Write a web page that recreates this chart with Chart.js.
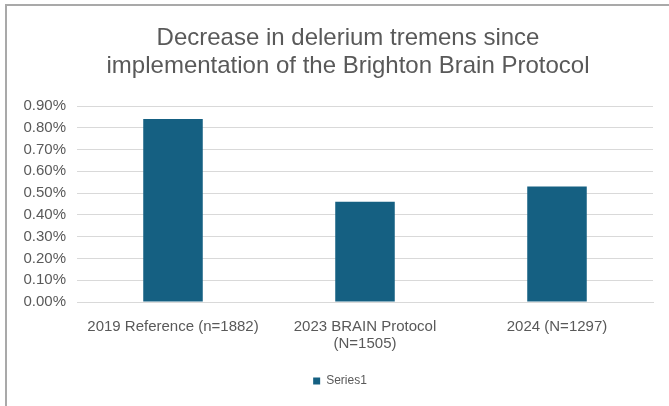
<!DOCTYPE html>
<html>
<head>
<meta charset="utf-8">
<script src="https://cdn.jsdelivr.net/npm/chart.js@4"></script>
<style>
  html, body { margin: 0; padding: 0; background: #fff; width: 669px; height: 406px; overflow: hidden; }
  #frame { position: absolute; left: 5px; top: 4px; width: 700px; height: 440px;
           border-top: 2px solid #a9a9a9; border-left: 2px solid #a9a9a9; }
  #wrap { position: absolute; left: 7px; top: 6px; width: 662px; height: 400px; }
</style>
</head>
<body>
<div id="frame"></div>
<div id="wrap"><canvas id="c"></canvas></div>
<script>
const categories = [
  "2019 Reference (n=1882)",
  ["2023 BRAIN Protocol", "(N=1505)"],
  "2024 (N=1297)"
];
const series1 = [0.84, 0.46, 0.53];
const titleLines = [
  "Decrease in delerium tremens since",
  "implementation of the Brighton Brain Protocol"
];
const seriesName = "Series1";

const textColor = "#595959";
const gridColor = "#d9d9d9";
const barColor = "#156082";
const fontFamily = "Liberation Sans, Arial, sans-serif";

// nudges the title and legend blocks horizontally (reference centres them slightly right)
const nudgeBlocks = {
  id: "nudgeBlocks",
  afterLayout(chart) {
    if (chart.titleBlock) { chart.titleBlock.left += 18; chart.titleBlock.right += 18; }
    if (chart.legend) { chart.legend.left += 10; chart.legend.right += 10; }
  }
};

new Chart(document.getElementById("c"), {
  type: "bar",
  data: {
    labels: categories,
    datasets: [{
      label: seriesName,
      data: series1,
      backgroundColor: barColor,
      borderWidth: 0,
      categoryPercentage: 1.0,
      barPercentage: 0.31
    }]
  },
  plugins: [nudgeBlocks],
  options: {
    responsive: true,
    maintainAspectRatio: false,
    animation: false,
    devicePixelRatio: 1,
    layout: { padding: { left: 0, right: 16, top: 18, bottom: 9 } },
    plugins: {
      title: {
        display: true,
        text: titleLines,
        color: textColor,
        font: { family: fontFamily, size: 24, weight: "normal", lineHeight: 28 / 24 },
        padding: { top: 0, bottom: 26 }
      },
      legend: {
        display: true,
        position: "bottom",
        labels: {
          color: textColor,
          font: { family: fontFamily, size: 12 },
          boxWidth: 7,
          boxHeight: 7,
          padding: 10
        }
      },
      tooltip: { enabled: false }
    },
    scales: {
      x: {
        grid: { display: false, drawTicks: false },
        border: { display: true, color: gridColor, width: 1 },
        afterFit: (scale) => { scale.height = 63; },
        ticks: {
          color: textColor,
          font: { family: fontFamily, size: 15, lineHeight: 1.1 },
          padding: 17,
          maxRotation: 0,
          autoSkip: false
        }
      },
      y: {
        min: 0,
        max: 0.9,
        grid: { color: gridColor, drawTicks: false },
        border: { display: false },
        afterFit: (scale) => { scale.width = 70; },
        ticks: {
          stepSize: 0.1,
          color: textColor,
          font: { family: fontFamily, size: 15 },
          padding: 11,
          callback: (v) => v.toFixed(2) + "%"
        }
      }
    }
  }
});
</script>
</body>
</html>
